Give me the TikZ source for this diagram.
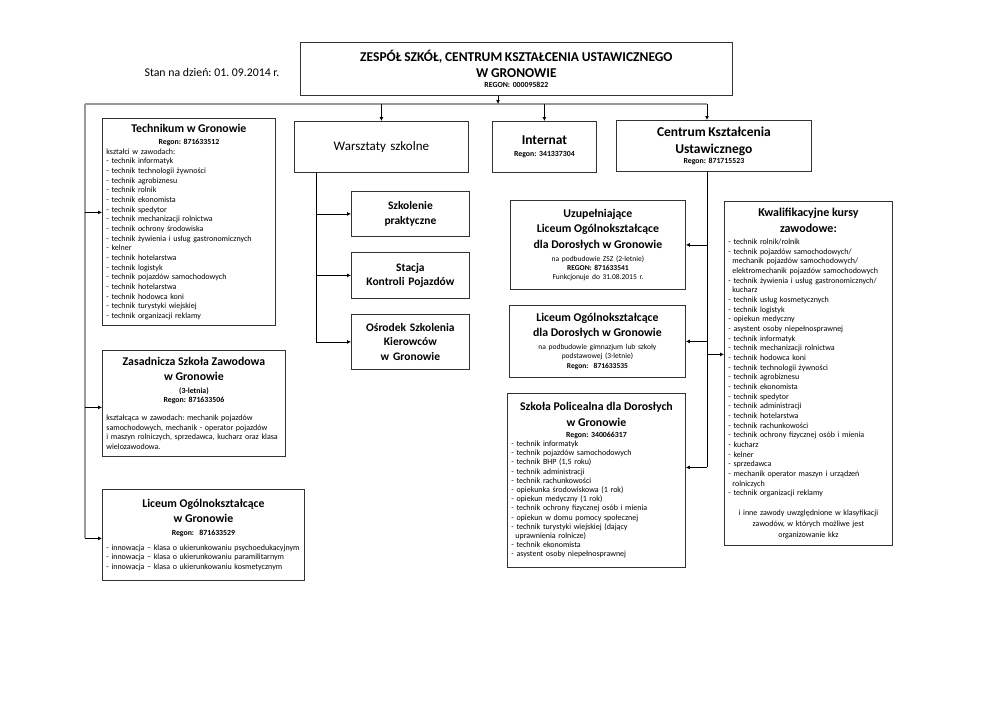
\documentclass[tikz,border=0pt]{standalone}
\usepackage{fontspec}
\setmainfont{Carlito}
\usetikzlibrary{arrows.meta, positioning, calc}
\frenchspacing
\newcommand{\fBig}{\fontsize{13.5}{16}\selectfont\bfseries}
\newcommand{\fHead}{\fontsize{11.8}{15.5}\selectfont\bfseries}
\newcommand{\fReg}{\fontsize{7.8}{12.5}\selectfont\bfseries}
\newcommand{\fList}{\fontsize{8}{9.67}\selectfont}
\newcommand{\fSmall}{\fontsize{7.5}{9}\selectfont\mdseries}

\begin{document}
\begin{tikzpicture}[
    x=1pt, y=-1pt, >=Latex,
    frame/.style={draw=black!80, line width=0.8pt, anchor=north west, align=left,
                  inner xsep=4pt, inner ysep=3pt, font=\fList},
    sub/.style={frame, align=center, text width=110pt, font=\fontsize{11.5}{14.5}\selectfont\bfseries},
    link/.style={-{Latex[length=4pt,width=4pt]}, line width=0.8pt},
    wire/.style={line width=0.8pt},
    bus/.style={draw=black!40, line width=1.2pt},
  ]
    \path[use as bounding box, fill=white] (0,0) rectangle (992,702);
    % ---- nagłówek ----
    \node[font=\fontsize{11.8}{14}\selectfont] (stan) at (212,72) {Stan na dzień: 01. 09.2014 r.};
    \node[frame, align=center, text width=424pt, minimum height=53pt] (zsp) at (300,42)
      {\fBig ZESPÓŁ SZKÓŁ, CENTRUM KSZTAŁCENIA USTAWICZNEGO\\ W GRONOWIE\par
       \fReg REGON: 000095822};
    % ---- druga linia ----
    \node[frame, align=center, text width=166pt, minimum height=51pt,
          font=\fontsize{13}{16}\selectfont] (warsz) at (294,121) {Warsztaty szkolne};
    \node[frame, align=center, text width=96pt, minimum height=51pt] (int) at (492,121)
      {\fontsize{13.5}{16}\selectfont\bfseries Internat\par\vspace{3pt}\fReg Regon: 341337304};
    \node[frame, align=center, text width=187pt, minimum height=51pt] (cent) at (616,120)
      {\fontsize{13.5}{17}\selectfont\bfseries Centrum Kształcenia\\ Ustawicznego\par
       \fReg Regon: 871715523};
    % ---- lewa kolumna ----
    \node[frame, text width=165pt, minimum height=207pt] (tech) at (102,118)
      {{\centering\fHead Technikum w Gronowie\par\fReg Regon: 871633512\par}
       kształci w zawodach:\\
       - technik informatyk\\
       - technik technologii żywności\\
       - technik agrobiznesu\\
       - technik rolnik\\
       - technik ekonomista\\
       - technik spedytor\\
       - technik mechanizacji rolnictwa\\
       - technik ochrony środowiska\\
       - technik żywienia i usług gastronomicznych\\
       - kelner\\
       - technik hotelarstwa\\
       - technik logistyk\\
       - technik pojazdów samochodowych\\
       - technik hotelarstwa\\
       - technik hodowca koni\\
       - technik turystyki wiejskiej\\
       - technik organizacji reklamy};
    \node[frame, text width=175pt, minimum height=106pt] (zsz) at (102,350)
      {{\centering\fHead Zasadnicza Szkoła Zawodowa\\ w Gronowie\par
        \fReg (3-letnia)\par\fontsize{7.8}{9.5}\selectfont Regon: 871633506\par}
       \vspace{8pt}
       kształcąca w zawodach: mechanik pojazdów\\
       samochodowych, mechanik - operator pojazdów\\
       i maszyn rolniczych, sprzedawca, kucharz oraz klasa\\
       wielozawodowa.};
    \node[frame, text width=194pt, minimum height=91pt] (lic) at (102,489)
      {{\centering\fHead Liceum Ogólnokształcące\\ w Gronowie\par\fReg Regon:\ \ 871633529\par}
       \vspace{5pt}
       - innowacja – klasa o ukierunkowaniu psychoedukacyjnym\\
       - innowacja – klasa o ukierunkowaniu paramilitarnym\\
       - innowacja – klasa o ukierunkowaniu kosmetycznym};
    % ---- warsztaty ----
    \node[sub, minimum height=45pt] (szk) at (351,191) {Szkolenie\\ praktyczne};
    \node[sub, minimum height=46pt] (skp) at (351,252) {Stacja\\ Kontroli Pojazdów};
    \node[sub, minimum height=55pt] (osk) at (351,314) {Ośrodek Szkolenia\\ Kierowców\\ w Gronowie};
    % ---- centrum ----
    \node[frame, align=center, text width=167pt, minimum height=89pt] (uzup) at (510,200)
      {\fHead Uzupełniające\\ Liceum Ogólnokształcące\\ dla Dorosłych w Gronowie\par
       \vspace{4pt}\fSmall na podbudowie ZSZ (2-letnie)\\ {\bfseries REGON: 871633541}\\
       Funkcjonuje do 31.08.2015 r.};
    \node[frame, align=center, text width=168pt, minimum height=72pt] (lod) at (509,305)
      {\fHead Liceum Ogólnokształcące\\ dla Dorosłych w Gronowie\par
       \vspace{4pt}\fSmall na podbudowie gimnazjum lub szkoły\\ podstawowej (3-letnie)\\
       {\bfseries Regon:\ \ 871633535}};
    \node[frame, text width=170pt, minimum height=174pt, font=\fontsize{8}{9.2}\selectfont] (polic) at (507,393)
      {{\centering\fHead Szkoła Policealna dla Dorosłych\\ w Gronowie\par\fontsize{7.8}{11}\selectfont\bfseries Regon: 340066317\par}
       - technik informatyk\\
       - technik pojazdów samochodowych\\
       - technik BHP (1,5 roku)\\
       - technik administracji\\
       - technik rachunkowości\\
       - opiekunka środowiskowa (1 rok)\\
       - opiekun medyczny (1 rok)\\
       - technik ochrony fizycznej osób i mienia\\
       - opiekun w domu pomocy społecznej\\
       - technik turystyki wiejskiej (dający\\
       \hspace*{4pt}uprawnienia rolnicze)\\
       - technik ekonomista\\
       - asystent osoby niepełnosprawnej};
    \node[frame, text width=160pt, minimum height=344pt] (kwal) at (724,201)
      {{\centering\fontsize{12}{16}\selectfont\bfseries Kwalifikacyjne kursy\\ zawodowe:\par}
       \vspace{2pt}
       - technik rolnik/rolnik\\
       - technik pojazdów samochodowych/\\
       \hspace*{4pt}mechanik pojazdów samochodowych/\\
       \hspace*{4pt}elektromechanik pojazdów samochodowych\\
       - technik żywienia i usług gastronomicznych/\\
       \hspace*{4pt}kucharz\\
       - technik usług kosmetycznych\\
       - technik logistyk\\
       - opiekun medyczny\\
       - asystent osoby niepełnosprawnej\\
       - technik informatyk\\
       - technik mechanizacji rolnictwa\\
       - technik hodowca koni\\
       - technik technologii żywności\\
       - technik agrobiznesu\\
       - technik ekonomista\\
       - technik spedytor\\
       - technik administracji\\
       - technik hotelarstwa\\
       - technik rachunkowości\\
       - technik ochrony fizycznej osób i mienia\\
       - kucharz\\
       - kelner\\
       - sprzedawca\\
       - mechanik operator maszyn i urządzeń\\
       \hspace*{4pt}rolniczych\\
       - technik organizacji reklamy\par
       \vspace{9pt}
       {\centering\fontsize{8}{10.8}\selectfont i inne zawody uwzględnione w klasyfikacji\\
        zawodów, w których możliwe jest\\ organizowanie kkz\par}};
    % ---- szyna ----
    \coordinate (busL) at (85,104);
    \coordinate (busR) at (707,104);
    \coordinate (busT) at (498,104);
    \coordinate (wv)   at (316,172);
    \draw[bus] (busL) -- (busR);
    \draw[bus] (busL) -- ([yshift=-3.5pt]lic.west -| busL);
    \draw[link] (zsp.south -| busT) -- (busT);
    \draw[link] (busL -| warsz.north) -- (warsz.north);
    \draw[link] (busL -| int.north) -- (int.north);
    \draw[link] (busR) -- (busR |- cent.north);
    % ---- lewa kolumna ----
    \draw[link] ([yshift=9.5pt]tech.west -| busL) -- ([yshift=9.5pt]tech.west);
    \draw[link] ([yshift=-4pt]zsz.west -| busL) -- ([yshift=-4pt]zsz.west);
    \draw[link] ([yshift=-3.5pt]lic.west -| busL) -- ([yshift=-3.5pt]lic.west);
    % ---- warsztaty ----
    \draw[wire] (warsz.south -| wv) -- (wv |- osk.west);
    \draw[link] (wv |- szk.west) -- (szk.west);
    \draw[link] (wv |- skp.west) -- (skp.west);
    \draw[link] (wv |- osk.west) -- (osk.west);
    % ---- centrum ----
    \draw[wire] (cent.south -| busR) -- ([yshift=13pt]polic.east -| busR);
    \draw[link] (busR |- uzup.east) -- (uzup.east);
    \draw[link] (busR |- lod.east) -- (lod.east);
    \draw[link] ([yshift=13pt]polic.east -| busR) -- ([yshift=13pt]polic.east);
    \draw[link] ([yshift=19pt]kwal.west -| busR) -- ([yshift=19pt]kwal.west);
\end{tikzpicture}
\end{document}
